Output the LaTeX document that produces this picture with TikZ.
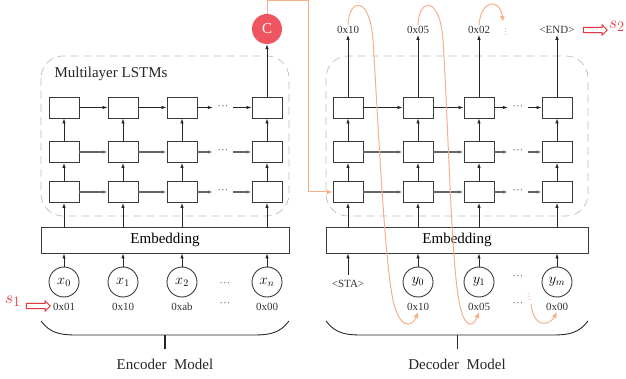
\documentclass[tikz,border=0pt]{standalone}
\usepackage{fontspec}
\setmainfont{Liberation Serif}
\usetikzlibrary{arrows.meta,shapes.arrows,calc}
\definecolor{cellline}{HTML}{3A3A3A}
\definecolor{orangeln}{HTML}{F5B08A}
\definecolor{redc}{HTML}{EE5560}
\definecolor{redtxt}{HTML}{E8343C}
\definecolor{grpline}{HTML}{BDBDBD}
\newcommand{\mdots}{\textperiodcentered\kern0.3pt\textperiodcentered\kern0.3pt\textperiodcentered}
\tikzset{
  cell/.style={draw=cellline, line width=0.9pt, fill=white, minimum width=30pt, minimum height=21pt, inner sep=0pt},
  grp/.style={draw=grpline, dashed, dash pattern=on 8pt off 5pt, rounded corners=22pt, line width=0.7pt},
  embed/.style={draw=cellline, line width=0.9pt, minimum height=26pt, inner sep=0pt, font=\fontsize{15}{15}\selectfont},
  tok/.style={draw=cellline, circle, line width=0.9pt, minimum size=30pt, inner sep=0pt, font=\fontsize{14}{14}\selectfont},
  val/.style={font=\fontsize{11}{11}\selectfont, text=black!80, inner sep=1pt},
  dotsn/.style={font=\fontsize{10}{10}\selectfont, text=black!75, inner sep=0pt, minimum width=20pt},
  arr/.style={-{Latex[length=5pt,width=3.5pt]}, line width=0.8pt, draw=black!85},
  harr/.style={-{Latex[length=5pt,width=3.5pt]}, line width=1.1pt, draw=black!60},
  oarr/.style={-{Latex[length=6pt,width=5pt]}, line width=1pt, draw=orangeln},
  hollow/.style={single arrow, draw=redtxt, line width=0.9pt, fill=white, minimum height=24pt, minimum width=10pt, single arrow head extend=2.5pt, inner sep=2.2pt},
  sname/.style={text=redtxt, font=\fontsize{19}{19}\selectfont},
  caption/.style={font=\fontsize{15}{15}\selectfont, text=black!85},
}
\begin{document}
\begin{tikzpicture}[x=1pt,y=-1pt]
\useasboundingbox (0,0) rectangle (626,379);

% ---------- Encoder ----------
\draw[grp] (41,56) rectangle (289,216);
\node[caption, anchor=west] (mlabel) at (51,74) {Multilayer LSTMs};

\foreach \r/\yy in {1/107.5,2/152,3/192}{
  \foreach \c/\xx in {1/64,2/123,3/182,4/267}{
    \node[cell] (e\r\c) at (\xx,\yy) {};
  }
  \node[dotsn] (ed\r) at (223,\yy) {\mdots};
}
\foreach \r/\st in {1/arr,2/harr,3/harr}{
  \draw[\st] (e\r1) -- (e\r2);
  \draw[\st] (e\r2) -- (e\r3);
  \draw[\st] (e\r3) -- (ed\r);
  \draw[\st] (ed\r) -- (e\r4);
}
\foreach \c in {1,2,3,4}{
  \draw[arr] (e3\c) -- (e2\c);
  \draw[arr] (e2\c) -- (e1\c);
}

\node[embed, minimum width=248pt] (eemb) at (165,240) {Embedding};
\foreach \c in {1,2,3,4}{
  \draw[arr] (eemb.north -| e3\c) -- (e3\c);
}

\node[tok] (x0) at (64,282) {$x_0$};
\node[tok] (x1) at (123,282) {$x_1$};
\node[tok] (x2) at (182,282) {$x_2$};
\node[tok] (xn) at (267,282) {$x_n$};
\node[dotsn] (xd) at (225,285) {\mdots};
\foreach \n in {x0,x1,x2,xn}{
  \draw[arr] (\n) -- (eemb.south -| \n);
}
\node[val] (xv0) at (64,307) {0x01};
\node[val] (xv1) at (123,307) {0x10};
\node[val] (xv2) at (182,307) {0xab};
\node[dotsn] (xvd) at (225,305) {\mdots};
\node[val] (xvn) at (267,307) {0x00};

\node[sname] (s1) at (13,301) {$s_1$};
\node[hollow] (s1arr) at (37,306) {};

\draw[line width=0.9pt, draw=black!85] (41,321) .. controls (50,333) and (60,335) .. (76,335) -- (254,335) .. controls (270,335) and (280,333) .. (289,321);
\draw[line width=1.8pt, draw=black!85] (165,335) -- (165,349);
\node[caption] (enc) at (165,364) {Encoder\ \ Model};

% context vector
\node[circle, fill=redc, minimum size=30pt, inner sep=0pt, text=white, font=\fontsize{15}{15}\selectfont] (C) at (267,29) {C};
\draw[arr] (e14) -- (C);

% ---------- Decoder ----------
\draw[grp] (326,56) rectangle (588,216);
\foreach \r/\yy in {1/107.5,2/152,3/192}{
  \foreach \c/\xx in {1/348,2/418,3/479,4/557}{
    \node[cell] (d\r\c) at (\xx,\yy) {};
  }
  \node[dotsn] (dd\r) at (518,\yy) {\mdots};
}
\foreach \r/\st in {1/arr,2/harr,3/harr}{
  \draw[\st] (d\r1) -- (d\r2);
  \draw[\st] (d\r2) -- (d\r3);
  \draw[\st] (d\r3) -- (dd\r);
  \draw[\st] (dd\r) -- (d\r4);
}
\foreach \c in {1,2,3,4}{
  \draw[arr] (d3\c) -- (d2\c);
  \draw[arr] (d2\c) -- (d1\c);
}

\node[embed, minimum width=262pt] (demb) at (457,240) {Embedding};
\foreach \c in {1,2,3,4}{
  \draw[arr] (demb.north -| d3\c) -- (d3\c);
}

\node[val] (sta) at (348,284) {<STA>};
\node[tok] (y0) at (418,282) {$y_0$};
\node[tok] (y1) at (479,282) {$y_1$};
\node[tok] (ym) at (557,282) {$y_m$};
\node[dotsn] (yd) at (518,278) {\mdots};
\coordinate (stab) at ($(sta.north)+(0,-4)$);
\draw[arr] (stab) -- (demb.south -| sta);
\foreach \n in {y0,y1,ym}{
  \draw[arr] (\n) -- (demb.south -| \n);
}
\node[val] (yv0) at (418,307) {0x10};
\node[val] (yv1) at (479,307) {0x05};
\node[dotsn] (yvd) at (518,305) {\mdots};
\node[val] (yvm) at (557,307) {0x00};

\node[val] (o1) at (348,30) {0x10};
\node[val] (o2) at (418,30) {0x05};
\node[val] (o3) at (479,30) {0x02};
\node[val] (o4) at (557,30) {<END>};
\draw[arr] (d11) -- (o1);
\draw[arr] (d12) -- (o2);
\draw[arr] (d13) -- (o3);
\draw[arr] (d14) -- (o4);

\node[hollow] (s2arr) at (594,30) {};
\node[sname] (s2) at (617,26) {$s_2$};

\draw[line width=0.9pt, draw=black!85] (326,321) .. controls (335,333) and (345,335) .. (361,335) -- (553,335) .. controls (569,335) and (579,333) .. (588,321);
\draw[line width=1.0pt, draw=black!85] (457,335) -- (457,349);
\node[caption] (dec) at (457,364) {Decoder\ \ Model};

% ---------- context flow and feedback ----------
\coordinate (ctop) at (308,1);
\draw[oarr] (C.north) |- (ctop) |- (d31.west);

\draw[oarr] (o1.north) .. controls (349,-3) and (370,-4) .. (373,40)
  .. controls (378,120) and (384,250) .. (392,295)
  .. controls (398,330) and (412,328) .. (yv0.south);
\draw[oarr] (o2.north) .. controls (419,-3) and (440,-4) .. (443,40)
  .. controls (448,120) and (451,250) .. (458,295)
  .. controls (463,330) and (473,328) .. (yv1.south);
\draw[oarr] (o3.north) .. controls (481,-1) and (500,-2) .. (503,22);
\draw[orangeln, line width=1pt, dotted] (505,28) -- (505,37);
\draw[orangeln, line width=1pt, dotted] (528,293) -- (530,301);
\draw[oarr] (531,304) .. controls (534,330) and (550,325) .. (yvm.south);
\end{tikzpicture}
\end{document}
